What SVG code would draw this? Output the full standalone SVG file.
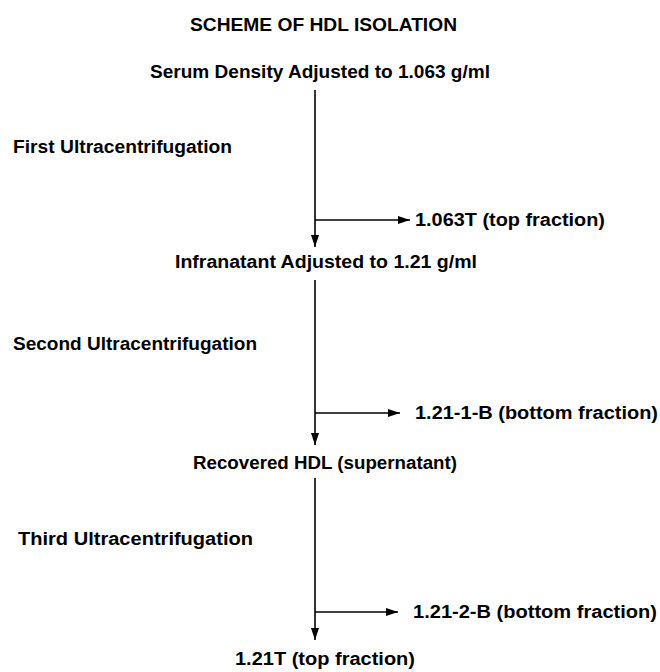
<svg xmlns="http://www.w3.org/2000/svg" width="660" height="672" viewBox="0 0 660 672">
<style>
text{font-family:"Liberation Sans",Arial,sans-serif;font-weight:bold;font-size:18px;fill:#000}
.ln{stroke:#000;stroke-width:1.6;fill:none}
</style>
<defs>
<marker id="ah" viewBox="0 0 12 8" refX="12" refY="4" markerWidth="12" markerHeight="8" markerUnits="userSpaceOnUse" orient="auto">
<path d="M0,0 L12,4 L0,8 Z" fill="#000"/>
</marker>
</defs>
<g id="title"><text x="190" y="31" textLength="267" lengthAdjust="spacingAndGlyphs">SCHEME OF HDL ISOLATION</text></g>
<g id="serum"><text x="150" y="78" textLength="340" lengthAdjust="spacingAndGlyphs">Serum Density Adjusted to 1.063 g/ml</text></g>
<g id="step1"><text x="13" y="153" textLength="219" lengthAdjust="spacingAndGlyphs">First Ultracentrifugation</text></g>
<g id="top1"><text x="415" y="226" textLength="190" lengthAdjust="spacingAndGlyphs">1.063T (top fraction)</text></g>
<g id="infranatant"><text x="175" y="268" textLength="302" lengthAdjust="spacingAndGlyphs">Infranatant Adjusted to 1.21 g/ml</text></g>
<g id="step2"><text x="13" y="350" textLength="244" lengthAdjust="spacingAndGlyphs">Second Ultracentrifugation</text></g>
<g id="bottom1"><text x="415" y="419" textLength="243" lengthAdjust="spacingAndGlyphs">1.21-1-B (bottom fraction)</text></g>
<g id="recovered"><text x="193" y="469" textLength="264" lengthAdjust="spacingAndGlyphs">Recovered HDL (supernatant)</text></g>
<g id="step3"><text x="18" y="545" textLength="235" lengthAdjust="spacingAndGlyphs">Third Ultracentrifugation</text></g>
<g id="bottom2"><text x="413" y="618" textLength="244" lengthAdjust="spacingAndGlyphs">1.21-2-B (bottom fraction)</text></g>
<g id="top2"><text x="235" y="665" textLength="180" lengthAdjust="spacingAndGlyphs">1.21T (top fraction)</text></g>
<g id="connectors">
<line class="ln" x1="315" y1="90" x2="315" y2="247" marker-end="url(#ah)"/>
<line class="ln" x1="315" y1="220" x2="410" y2="220" marker-end="url(#ah)"/>
<line class="ln" x1="315" y1="280" x2="315" y2="445" marker-end="url(#ah)"/>
<line class="ln" x1="315" y1="413" x2="400" y2="413" marker-end="url(#ah)"/>
<line class="ln" x1="315" y1="478" x2="315" y2="640" marker-end="url(#ah)"/>
<line class="ln" x1="315" y1="612" x2="398" y2="612" marker-end="url(#ah)"/>
</g>
</svg>
